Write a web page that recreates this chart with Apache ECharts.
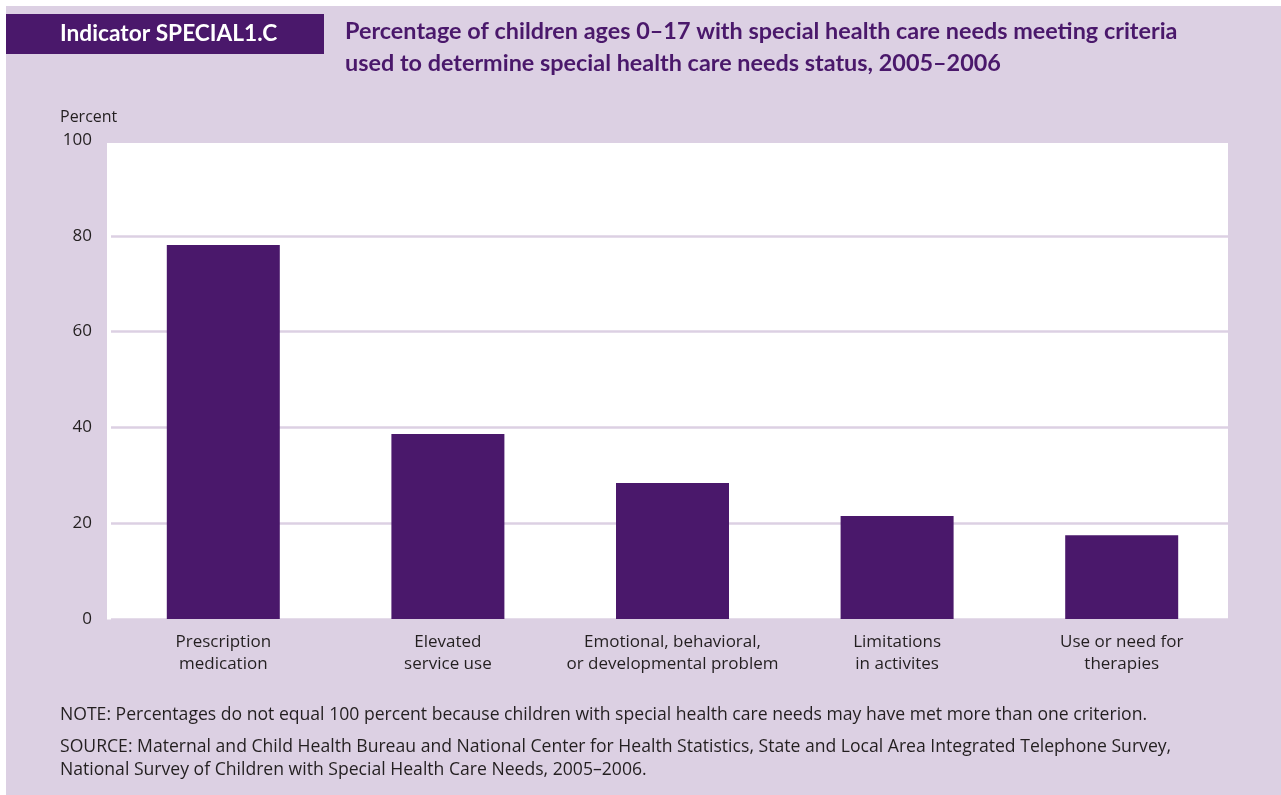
<!DOCTYPE html>
<html>
<head>
<meta charset="utf-8">
<script src="https://cdn.jsdelivr.net/npm/echarts@6/dist/echarts.min.js"></script>
<style>
  html, body { margin: 0; padding: 0; background: #ffffff; }
  #chart { width: 1281px; height: 795px; }
</style>
</head>
<body>
<div id="chart"></div>
<script>
const categories = [
  "Prescription\nmedication",
  "Elevated\nservice use",
  "Emotional, behavioral,\nor developmental problem",
  "Limitations\nin activites",
  "Use or need for\ntherapies"
];
const values = [78.1, 38.6, 28.4, 21.5, 17.5];
const yTicks = [0, 20, 40, 60, 80, 100];

const headerText = "Indicator SPECIAL1.C";
const titleLines = [
  "Percentage of children ages 0\u201317 with special health care needs meeting criteria",
  "used to determine special health care needs status, 2005\u20132006"
];
const yAxisTitle = "Percent";
const noteText = "NOTE: Percentages do not equal 100 percent because children with special health care needs may have met more than one criterion.";
const sourceLines = [
  "SOURCE: Maternal and Child Health Bureau and National Center for Health Statistics, State and Local Area Integrated Telephone Survey,",
  "National Survey of Children with Special Health Care Needs, 2005\u20132006."
];

const PURPLE = "#4a186b";
const LAVENDER = "#dcd0e3";
const TEXT = "#231f20";
const FONT = "'Open Sans', sans-serif";
const BOLD = "Lato, sans-serif";

const chart = echarts.init(document.getElementById('chart'), null, { renderer: 'canvas' });

const option = {
  backgroundColor: '#ffffff',
  animation: false,
  grid: { left: 111, right: 47, top: 140, bottom: 176, containLabel: false },
  xAxis: {
    type: 'category',
    data: categories,
    axisLine: { show: false },
    axisTick: { show: false },
    axisLabel: {
      color: TEXT, fontFamily: FONT, fontSize: 17, lineHeight: 22,
      margin: 12, interval: 0
    },
    splitLine: { show: false }
  },
  yAxis: {
    type: 'value',
    min: 0, max: 100, interval: 20,
    axisLine: { show: false },
    axisTick: { show: false },
    axisLabel: { color: TEXT, fontFamily: FONT, fontSize: 17, margin: 19,
      formatter: v => yTicks.includes(v) ? String(v) : '' },
    splitLine: { show: true, lineStyle: { color: LAVENDER, width: 2.5 } }
  },
  graphic: [
    { type: 'rect', z: -10, shape: { x: 6, y: 6, width: 1275, height: 789 }, style: { fill: LAVENDER } },
    { type: 'rect', z: -9, shape: { x: 107, y: 143, width: 1121, height: 476.5 }, style: { fill: '#ffffff' } },
    { type: 'rect', z: -8, shape: { x: 6, y: 14, width: 318, height: 40 }, style: { fill: PURPLE } },
    { type: 'text', z: 10, x: 60, y: 34, style: { text: headerText, fill: '#ffffff', font: "bold 22.7px " + BOLD, textVerticalAlign: 'middle' } },
    { type: 'text', z: 10, x: 345, y: 31, style: { text: titleLines[0], fill: PURPLE, font: "bold 23.4px " + BOLD, textVerticalAlign: 'middle' } },
    { type: 'text', z: 10, x: 345, y: 63, style: { text: titleLines[1], fill: PURPLE, font: "bold 23.4px " + BOLD, textVerticalAlign: 'middle' } },
    { type: 'text', z: 10, x: 60, y: 117, style: { text: yAxisTitle, fill: TEXT, font: "16px " + FONT, textVerticalAlign: 'middle' } },
    { type: 'text', z: 10, x: 60, y: 715, style: { text: noteText, fill: TEXT, font: "17.6px " + FONT, textVerticalAlign: 'middle' } },
    { type: 'text', z: 10, x: 60, y: 747, style: { text: sourceLines[0], fill: TEXT, font: "17.6px " + FONT, textVerticalAlign: 'middle' } },
    { type: 'text', z: 10, x: 60, y: 770, style: { text: sourceLines[1], fill: TEXT, font: "17.6px " + FONT, textVerticalAlign: 'middle' } }
  ],
  series: [{
    type: 'bar',
    data: values,
    barWidth: 113,
    itemStyle: { color: PURPLE },
    z: 5
  }]
};
chart.setOption(option);
</script>
</body>
</html>
